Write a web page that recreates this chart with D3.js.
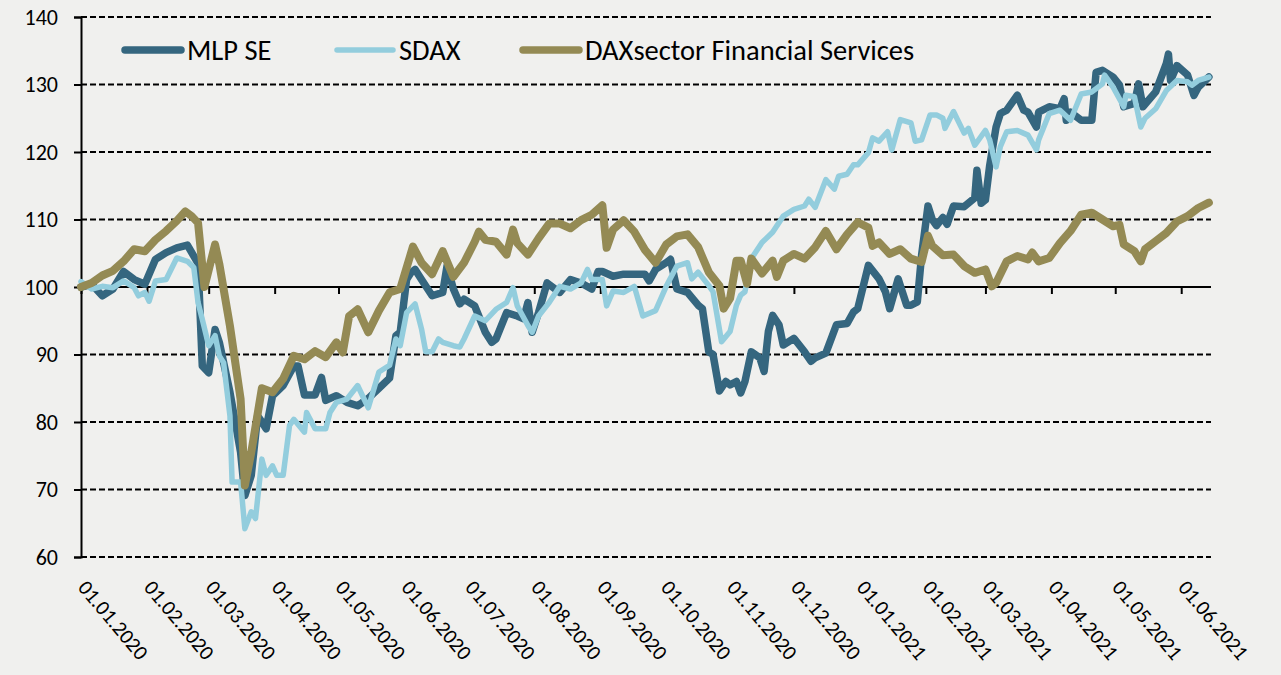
<!DOCTYPE html>
<html>
<head>
<meta charset="utf-8">
<script src="https://cdn.jsdelivr.net/npm/d3@7"></script>
<style>
  html, body { margin: 0; padding: 0; background: #f0f0ee; }
  svg { display: block; font-family: Carlito, Calibri, Lato, sans-serif; }
</style>
</head>
<body>
<svg id="chart" width="1281" height="675"></svg>
<script>
// MLP SE
const mlpDates = [
  '2020-01-01', '2020-01-06', '2020-01-11', '2020-01-16', '2020-01-21', '2020-01-26', '2020-01-31',
  '2020-02-05', '2020-02-10', '2020-02-15', '2020-02-20', '2020-02-25', '2020-02-27',
  '2020-03-01', '2020-03-04', '2020-03-06', '2020-03-11', '2020-03-16', '2020-03-18', '2020-03-21',
  '2020-03-24', '2020-03-26', '2020-03-28', '2020-03-31',
  '2020-04-05', '2020-04-10', '2020-04-12', '2020-04-15', '2020-04-20', '2020-04-23', '2020-04-25', '2020-04-30',
  '2020-05-05', '2020-05-10', '2020-05-15', '2020-05-20', '2020-05-25', '2020-05-28', '2020-05-30',
  '2020-06-02', '2020-06-04', '2020-06-06', '2020-06-09', '2020-06-14', '2020-06-19', '2020-06-21',
  '2020-06-24', '2020-06-27', '2020-06-29',
  '2020-07-04', '2020-07-09', '2020-07-12', '2020-07-14', '2020-07-19', '2020-07-24', '2020-07-27',
  '2020-07-29', '2020-07-31',
  '2020-08-03', '2020-08-07', '2020-08-13', '2020-08-18', '2020-08-23', '2020-08-28', '2020-08-31',
  '2020-09-02', '2020-09-07', '2020-09-12', '2020-09-17', '2020-09-22', '2020-09-24', '2020-09-27',
  '2020-10-02', '2020-10-04', '2020-10-07', '2020-10-12', '2020-10-17', '2020-10-19', '2020-10-22',
  '2020-10-24', '2020-10-27', '2020-10-30',
  '2020-11-01', '2020-11-04', '2020-11-06', '2020-11-08', '2020-11-11', '2020-11-15', '2020-11-17',
  '2020-11-19', '2020-11-21', '2020-11-24', '2020-11-26',
  '2020-12-01', '2020-12-06', '2020-12-09', '2020-12-11', '2020-12-16', '2020-12-21', '2020-12-26',
  '2020-12-29', '2020-12-31',
  '2021-01-05', '2021-01-10', '2021-01-13', '2021-01-15', '2021-01-19', '2021-01-20', '2021-01-23',
  '2021-01-25', '2021-01-28', '2021-01-30',
  '2021-02-02', '2021-02-04', '2021-02-06', '2021-02-09', '2021-02-11', '2021-02-14', '2021-02-19',
  '2021-02-24', '2021-02-25', '2021-02-27',
  '2021-03-01', '2021-03-03', '2021-03-06', '2021-03-08', '2021-03-11', '2021-03-16', '2021-03-19',
  '2021-03-21', '2021-03-25', '2021-03-26', '2021-03-31',
  '2021-04-05', '2021-04-07', '2021-04-08', '2021-04-10', '2021-04-15', '2021-04-20', '2021-04-22',
  '2021-04-25', '2021-04-30',
  '2021-05-03', '2021-05-05', '2021-05-10', '2021-05-12', '2021-05-14', '2021-05-20', '2021-05-25',
  '2021-05-26', '2021-05-27', '2021-05-30',
  '2021-06-04', '2021-06-07', '2021-06-09', '2021-06-14'
];
const mlpValues = [
  100, 100.4, 98.7, 99.7, 102.3, 101.1, 100.4,
  104.1, 105.1, 105.8, 106.2, 103.5, 88.3,
  87.3, 93.7, 91.8, 84.4, 75.5, 69.1, 72.1,
  80.9, 80, 79, 83.9,
  85.4, 88.3, 88.3, 84, 84, 86.6, 83.2, 83.9,
  82.9, 82.4, 83.5, 85, 86.5, 92.8, 93.3,
  101.1, 102.1, 102.6, 101.1, 98.7, 99.2, 103.1,
  99.7, 97.5, 98.2,
  97.2, 93.3, 91.8, 92.3, 96.2, 95.7, 95.3,
  97.7, 93.3,
  96.2, 100.6, 99.2, 101.1, 100.6, 99.7, 102.3,
  102.3, 101.6, 101.9, 101.9, 101.9, 100.9, 102.6,
  103.6, 104.1, 99.7, 99.2, 97.3, 96.8, 90.4,
  90, 84.6, 86,
  85.5, 86, 84.3, 86, 90.4, 89.5, 87.5,
  93.4, 95.8, 94.4, 91.4,
  92.4, 90.4, 89, 89.5, 90.2, 94.4, 94.6,
  96.3, 96.8,
  103.2, 101.2, 99.3, 96.8, 101.2, 100.2, 97.3,
  97.3, 97.8, 104.7,
  112, 110, 109.1, 110.3, 109.3, 112, 111.9,
  113.2, 117.3, 112.4,
  112.9, 118, 123.7, 125.7, 126.2, 128.4, 126.2,
  125.9, 123.7, 125.9, 126.7,
  126.4, 127.9, 124.7, 125.9, 124.7, 124.7, 131.8,
  132.1, 131.1,
  129.9, 126.7, 127.2, 130.1, 126.7, 128.9, 133.1,
  134.5, 130.6, 132.8,
  131.4, 128.4, 129.6, 131.1
];

// SDAX
const sdaxDates = [
  '2020-01-01', '2020-01-06', '2020-01-11', '2020-01-16', '2020-01-21', '2020-01-26', '2020-01-28',
  '2020-01-31', '2020-02-02', '2020-02-05', '2020-02-10', '2020-02-15', '2020-02-20', '2020-02-23',
  '2020-02-25', '2020-02-27',
  '2020-03-01', '2020-03-04', '2020-03-06', '2020-03-08', '2020-03-11', '2020-03-12', '2020-03-16',
  '2020-03-18', '2020-03-21', '2020-03-23', '2020-03-26', '2020-03-28', '2020-03-31',
  '2020-04-02', '2020-04-05', '2020-04-08', '2020-04-10', '2020-04-15', '2020-04-16', '2020-04-20',
  '2020-04-25', '2020-04-27', '2020-04-30',
  '2020-05-05', '2020-05-10', '2020-05-13', '2020-05-15', '2020-05-20', '2020-05-25', '2020-05-28',
  '2020-05-30',
  '2020-06-02', '2020-06-06', '2020-06-09', '2020-06-11', '2020-06-14', '2020-06-17', '2020-06-19',
  '2020-06-24', '2020-06-27', '2020-06-29',
  '2020-07-04', '2020-07-09', '2020-07-14', '2020-07-19', '2020-07-22', '2020-07-24', '2020-07-29',
  '2020-07-31',
  '2020-08-03', '2020-08-08', '2020-08-13', '2020-08-18', '2020-08-23', '2020-08-26', '2020-08-28',
  '2020-09-02', '2020-09-04', '2020-09-07', '2020-09-12', '2020-09-17', '2020-09-21', '2020-09-27',
  '2020-10-02', '2020-10-07', '2020-10-12', '2020-10-14', '2020-10-17', '2020-10-22', '2020-10-24',
  '2020-10-28',
  '2020-11-01', '2020-11-04', '2020-11-06', '2020-11-08', '2020-11-11', '2020-11-16', '2020-11-21',
  '2020-11-26',
  '2020-12-01', '2020-12-06', '2020-12-08', '2020-12-11', '2020-12-16', '2020-12-20', '2020-12-22',
  '2020-12-26', '2020-12-29', '2020-12-31',
  '2021-01-05', '2021-01-07', '2021-01-10', '2021-01-14', '2021-01-16', '2021-01-20', '2021-01-25',
  '2021-01-27', '2021-01-30',
  '2021-02-03', '2021-02-06', '2021-02-09', '2021-02-10', '2021-02-14', '2021-02-19', '2021-02-21',
  '2021-02-24',
  '2021-03-01', '2021-03-03', '2021-03-06', '2021-03-08', '2021-03-11', '2021-03-16', '2021-03-21',
  '2021-03-25', '2021-03-26', '2021-03-31',
  '2021-04-05', '2021-04-10', '2021-04-15', '2021-04-20', '2021-04-25', '2021-04-26', '2021-04-30',
  '2021-05-05', '2021-05-06', '2021-05-10', '2021-05-13', '2021-05-15', '2021-05-20', '2021-05-25',
  '2021-05-30',
  '2021-06-04', '2021-06-06', '2021-06-09', '2021-06-14'
];
const sdaxValues = [
  100.8, 99.7, 100.1, 99.9, 100.9, 99.9, 98.7,
  99.2, 97.9, 100.9, 101.1, 104.3, 103.8, 102.9,
  97.7, 95.2,
  91.3, 92.8, 89.8, 88.8, 80.9, 71.1, 71.1,
  64.2, 66.7, 65.7, 74.5, 72.1, 73.5,
  72.1, 72.1, 79.5, 80.4, 78.5, 81.4, 79,
  79, 81.4, 82.9,
  83.4, 85.4, 83.4, 82.1, 87.4, 88.4, 92.3,
  91.3,
  96.2, 97.5, 93.8, 90.4, 90.4, 92.3, 91.8,
  91.3, 91.1, 92.3,
  95.7, 95, 96.7, 97.7, 99.9, 97.2, 94.3,
  93.3,
  95.7, 97.7, 100.1, 99.7, 100.6, 102.6, 101.1,
  101.1, 97.2, 99.4, 99.2, 100.1, 95.7, 96.5,
  100.1, 103.1, 103.6, 101.2, 102.2, 100.2, 99.3,
  91.9,
  93.4, 97.3, 98.8, 99.3, 104.2, 106.6, 108.1,
  110.5,
  111.5, 112, 113, 111.8, 115.9, 114.5, 116.4,
  116.7, 118.1, 118.1,
  119.9, 122.1, 121.6, 123, 120.3, 124.8, 124.3,
  121.6, 121.8,
  125.5, 125.5, 125, 123.5, 126, 122.8, 123.5,
  121,
  123.2, 121.8, 117.8, 120.8, 123, 123.2, 122.5,
  120.3, 121.8, 125.7,
  126.2, 124.7, 128.6, 128.9, 130.1, 131.4, 129.6,
  126.7, 128.4, 128.2, 123.7, 125, 126.4, 129.1,
  130.6,
  130.4, 129.9, 130.6, 131.1
];

// DAXsector Financial Services
const daxDates = [
  '2020-01-01', '2020-01-06', '2020-01-11', '2020-01-16', '2020-01-21', '2020-01-26', '2020-01-31',
  '2020-02-05', '2020-02-10', '2020-02-15', '2020-02-19', '2020-02-22', '2020-02-25', '2020-02-28',
  '2020-03-04', '2020-03-06', '2020-03-11', '2020-03-16', '2020-03-18', '2020-03-21', '2020-03-26',
  '2020-03-31',
  '2020-04-05', '2020-04-10', '2020-04-15', '2020-04-20', '2020-04-25', '2020-04-30',
  '2020-05-03', '2020-05-06', '2020-05-10', '2020-05-15', '2020-05-20', '2020-05-25', '2020-05-30',
  '2020-06-05', '2020-06-09', '2020-06-14', '2020-06-19', '2020-06-24', '2020-06-29',
  '2020-07-04', '2020-07-06', '2020-07-09', '2020-07-14', '2020-07-19', '2020-07-22', '2020-07-24',
  '2020-07-29',
  '2020-08-03', '2020-08-08', '2020-08-13', '2020-08-18', '2020-08-23', '2020-08-28',
  '2020-09-02', '2020-09-04', '2020-09-07', '2020-09-12', '2020-09-17', '2020-09-22', '2020-09-27',
  '2020-10-02', '2020-10-07', '2020-10-12', '2020-10-17', '2020-10-22', '2020-10-27', '2020-10-29',
  '2020-11-01', '2020-11-04', '2020-11-06', '2020-11-09', '2020-11-11', '2020-11-16', '2020-11-21',
  '2020-11-23', '2020-11-26',
  '2020-12-01', '2020-12-06', '2020-12-11', '2020-12-16', '2020-12-21', '2020-12-26', '2020-12-31',
  '2021-01-05', '2021-01-07', '2021-01-10', '2021-01-15', '2021-01-20', '2021-01-25', '2021-01-30',
  '2021-02-02', '2021-02-04', '2021-02-09', '2021-02-14', '2021-02-19', '2021-02-24',
  '2021-03-01', '2021-03-04', '2021-03-06', '2021-03-11', '2021-03-16', '2021-03-21', '2021-03-23',
  '2021-03-26', '2021-03-31',
  '2021-04-05', '2021-04-10', '2021-04-15', '2021-04-20', '2021-04-25', '2021-04-30',
  '2021-05-03', '2021-05-05', '2021-05-10', '2021-05-13', '2021-05-15', '2021-05-20', '2021-05-25',
  '2021-05-30',
  '2021-06-04', '2021-06-09', '2021-06-14'
];
const daxValues = [
  100, 100.6, 101.7, 102.4, 103.8, 105.6, 105.3,
  107, 108.3, 109.8, 111.2, 110.5, 109.5, 100,
  106.3, 103.4, 94.2, 83.4, 70.6, 75.5, 85,
  84.4,
  86.4, 89.8, 89.3, 90.5, 89.6, 91.8,
  90.3, 95.7, 96.7, 93.3, 96.5, 99.2, 99.7,
  106, 103.6, 101.9, 105.3, 101.5, 103.6,
  106.7, 108.2, 107, 106.7, 104.8, 108.5, 106.5,
  104.8,
  107.2, 109.4, 109.4, 108.7, 109.9, 110.7,
  112.1, 105.8, 108.5, 109.9, 108.2, 105.5, 103.6,
  106.3, 107.5, 107.8, 105.9, 102.2, 100.2, 96.8,
  98.3, 103.9, 103.9, 100.5, 104.2, 102, 103.9,
  101.5, 103.9,
  104.9, 104.2, 105.9, 108.3, 105.6, 107.8, 109.6,
  108.8, 106.1, 106.6, 104.9, 105.6, 104.2, 103.7,
  107.6, 106.1, 104.7, 104.8, 103.1, 102.1,
  102.6, 100.1, 100.6, 103.8, 104.6, 104.1, 105.1,
  103.8, 104.3,
  106.5, 108.3, 110.7, 111, 110, 109,
  109.2, 106.3, 105.3, 103.8, 105.6, 106.8, 108,
  109.7,
  110.5, 111.7, 112.5
];

const seriesNames = ['MLP SE', 'SDAX', 'DAXsector Financial Services'];
const seriesColors = ['#35667f', '#93cddd', '#948a54'];
const seriesWidths = [7.5, 5.5, 8];
const yTicks = [60, 70, 80, 90, 100, 110, 120, 130, 140];
const monthTicks = [
  '2020-01-01', '2020-02-01', '2020-03-01', '2020-04-01', '2020-05-01', '2020-06-01',
  '2020-07-01', '2020-08-01', '2020-09-01', '2020-10-01', '2020-11-01', '2020-12-01',
  '2021-01-01', '2021-02-01', '2021-03-01', '2021-04-01', '2021-05-01', '2021-06-01'
];

const parse = d3.utcParse('%Y-%m-%d');
const fmt = d3.utcFormat('%d.%m.%Y');

const svg = d3.select('#chart');
const plotLeft = 81;
const plotRight = 1211;
const plotTop = 17;
const plotBottom = 557;

svg.append('rect')
  .attr('width', 1281)
  .attr('height', 675)
  .attr('fill', '#f0f0ee');

const x = d3.scaleUtc()
  .domain([parse('2020-01-01'), parse('2021-06-15')])
  .range([plotLeft, plotRight]);

const y = d3.scaleLinear()
  .domain([60, 140])
  .range([plotBottom, plotTop]);

// dashed grid lines
svg.append('g')
  .selectAll('line')
  .data(yTicks.filter(d => d !== 100))
  .enter()
  .append('line')
  .attr('x1', plotLeft)
  .attr('x2', plotRight)
  .attr('y1', d => y(d))
  .attr('y2', d => y(d))
  .attr('stroke', '#000')
  .attr('stroke-width', 1.8)
  .attr('stroke-dasharray', '6 3');

// y axis
const yAxis = svg.append('g')
  .attr('transform', `translate(${plotLeft},0)`)
  .call(d3.axisLeft(y).tickValues(yTicks).tickSize(7).tickPadding(16));
yAxis.select('.domain').attr('stroke', '#000').attr('stroke-width', 2);
yAxis.selectAll('.tick line').attr('stroke', '#000').attr('stroke-width', 2);
yAxis.selectAll('.tick text')
  .attr('fill', '#000')
  .style('font-size', '22px')
  .style('font-family', 'Carlito, Calibri, Lato, sans-serif');

// x axis crossing at 100
const xAxis = svg.append('g')
  .attr('transform', `translate(0,${y(100)})`)
  .call(d3.axisBottom(x).tickValues(monthTicks.map(parse)).tickSize(7).tickFormat(''));
xAxis.select('.domain')
  .attr('d', `M${plotLeft},0H${plotRight}`)
  .attr('stroke', '#000')
  .attr('stroke-width', 2);
xAxis.selectAll('.tick line').attr('stroke', '#000').attr('stroke-width', 2);

// rotated date labels below the plot
svg.append('g')
  .selectAll('text')
  .data(monthTicks)
  .enter()
  .append('text')
  .attr('transform', d => `translate(${x(parse(d)) - 4},588) rotate(50)`)
  .attr('font-size', 21)
  .attr('fill', '#000')
  .text(d => fmt(parse(d)));

// series lines
const series = [
  { dates: mlpDates, values: mlpValues },
  { dates: sdaxDates, values: sdaxValues },
  { dates: daxDates, values: daxValues }
];

series.forEach((s, i) => {
  const line = d3.line()
    .x((d, j) => x(parse(s.dates[j])))
    .y(d => y(d));

  svg.append('path')
    .datum(s.values)
    .attr('d', line)
    .attr('fill', 'none')
    .attr('stroke', seriesColors[i])
    .attr('stroke-width', seriesWidths[i])
    .attr('stroke-linejoin', 'round')
    .attr('stroke-linecap', 'round');
});

// legend
const legendX = [125, 337, 523];
const legend = svg.append('g')
  .selectAll('g')
  .data(seriesNames)
  .enter()
  .append('g')
  .attr('transform', (d, i) => `translate(${legendX[i]},50)`);

legend.append('line')
  .attr('x1', 0)
  .attr('x2', 56)
  .attr('stroke', (d, i) => seriesColors[i])
  .attr('stroke-width', (d, i) => (i === 1 ? 5.5 : 7.5))
  .attr('stroke-linecap', 'round');

legend.append('text')
  .attr('x', 62)
  .attr('y', 10)
  .attr('font-size', 28.5)
  .attr('fill', '#000')
  .text(d => d);
</script>
</body>
</html>
